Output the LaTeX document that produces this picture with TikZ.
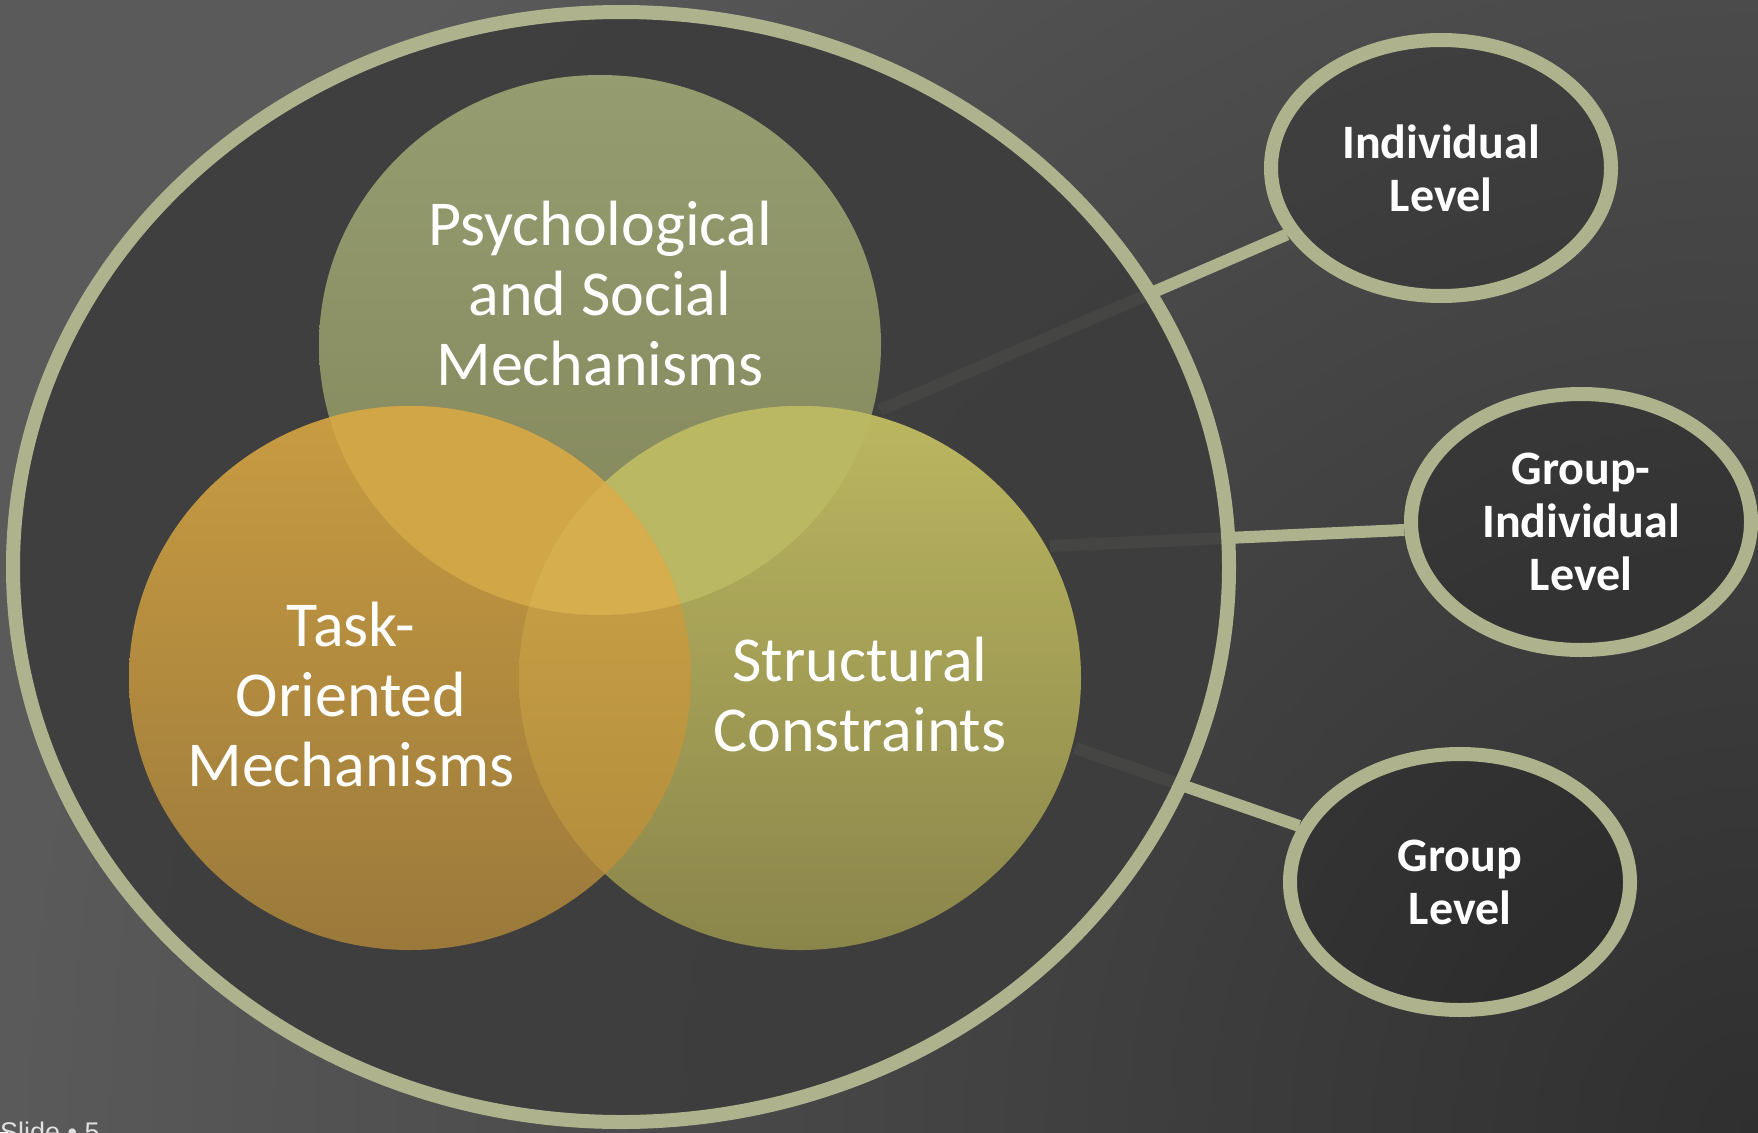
\documentclass[tikz,border=0pt]{standalone}
\usepackage{fontspec}
\setmainfont{Carlito}
\newfontfamily\slidefont{Liberation Sans}
\usetikzlibrary{shapes.geometric,positioning}

\definecolor{sage}{HTML}{AEB38D}
\definecolor{bglight}{HTML}{5A5A5A}
\definecolor{bgdark}{HTML}{2F2F2F}
\definecolor{disk}{HTML}{3D3D3D}
\definecolor{psytop}{HTML}{959D70}
\definecolor{psybot}{HTML}{83865A}
\definecolor{tasktop}{HTML}{C99C42}
\definecolor{taskbot}{HTML}{9A793B}
\definecolor{structop}{HTML}{BBB760}
\definecolor{strucbot}{HTML}{8A854A}
\definecolor{psytask}{HTML}{D0A647}
\definecolor{psystruc}{HTML}{BAB862}
\definecolor{tsktop}{HTML}{D0A747}
\definecolor{tskbot}{HTML}{B08A3C}
\definecolor{allthree}{HTML}{D6AE4D}

\tikzset{%
  level/.style={ellipse, draw=sage, line width=14pt, fill=black, fill opacity=0.15,
    text opacity=1, minimum width=340pt, minimum height=256pt, inner sep=0pt,
    text=white, align=center, font=\fontsize{48}{53}\selectfont\bfseries},
  link/.style={draw=sage, line width=12pt},
  venn label/.style={text=white, align=center, font=\fontsize{64}{70}\selectfont}
}

\def\psycircle{(600,345) ellipse [x radius=281, y radius=270]}
\def\taskcircle{(410,678) ellipse [x radius=281, y radius=272]}
\def\struccircle{(800,678) ellipse [x radius=281, y radius=272]}

\begin{document}
\begin{tikzpicture}[x=1pt, y=-1pt]
  \useasboundingbox (0,0) rectangle (1758,1132);
  % background
  \fill[bglight] (0,0) rectangle (1758,1132);
  \begin{scope}
    \clip (0,0) rectangle (1758,1132);
    \shade[inner color=bgdark, outer color=bglight] (1758,1132) circle [radius=1750];
  \end{scope}

  % levels
  \node[level] (ind) at (1441,168) {Individual\\Level};
  \node[level] (grpind) at (1581,522) {Group-\\Individual\\Level};
  \node[level] (grp) at (1460,882) {Group\\Level};

  % connectors start at the venn edge
  \coordinate (s1) at (880,410);
  \coordinate (s2) at (1050,546);
  \coordinate (s3) at (1075,748);
  \draw[link] (s1) -- (ind);
  \draw[link] (s2) -- (grpind);
  \draw[link] (s3) -- (grp);

  % outer ring
  \fill[disk, fill opacity=0.92] (621,567) ellipse [x radius=608, y radius=555];
  \draw[sage, line width=14pt] (621,567) ellipse [x radius=608, y radius=555];

  % venn
  \shade[top color=psytop, bottom color=psybot] \psycircle;
  \shade[top color=tasktop, bottom color=taskbot] \taskcircle;
  \shade[top color=structop, bottom color=strucbot] \struccircle;
  \begin{scope}
    \clip \psycircle;
    \fill[psytask] \taskcircle;
    \fill[psystruc] \struccircle;
  \end{scope}
  \begin{scope}
    \clip \taskcircle;
    \shade[top color=tsktop, bottom color=tskbot] \struccircle;
    \clip \psycircle;
    \fill[allthree] \struccircle;
  \end{scope}

  \node[venn label] (psy) at (600,294) {Psychological\\and Social\\Mechanisms};
  \node[venn label] (task) at (351,695) {Task-\\Oriented\\Mechanisms};
  \node[venn label] (struc) at (860,695) {Structural\\Constraints};

  \node[anchor=north west, inner sep=0pt, text=white!88!black,
    font=\slidefont\fontsize{27}{32}\selectfont] (slide) at (0,1122) {Slide • 5};
\end{tikzpicture}
\end{document}
